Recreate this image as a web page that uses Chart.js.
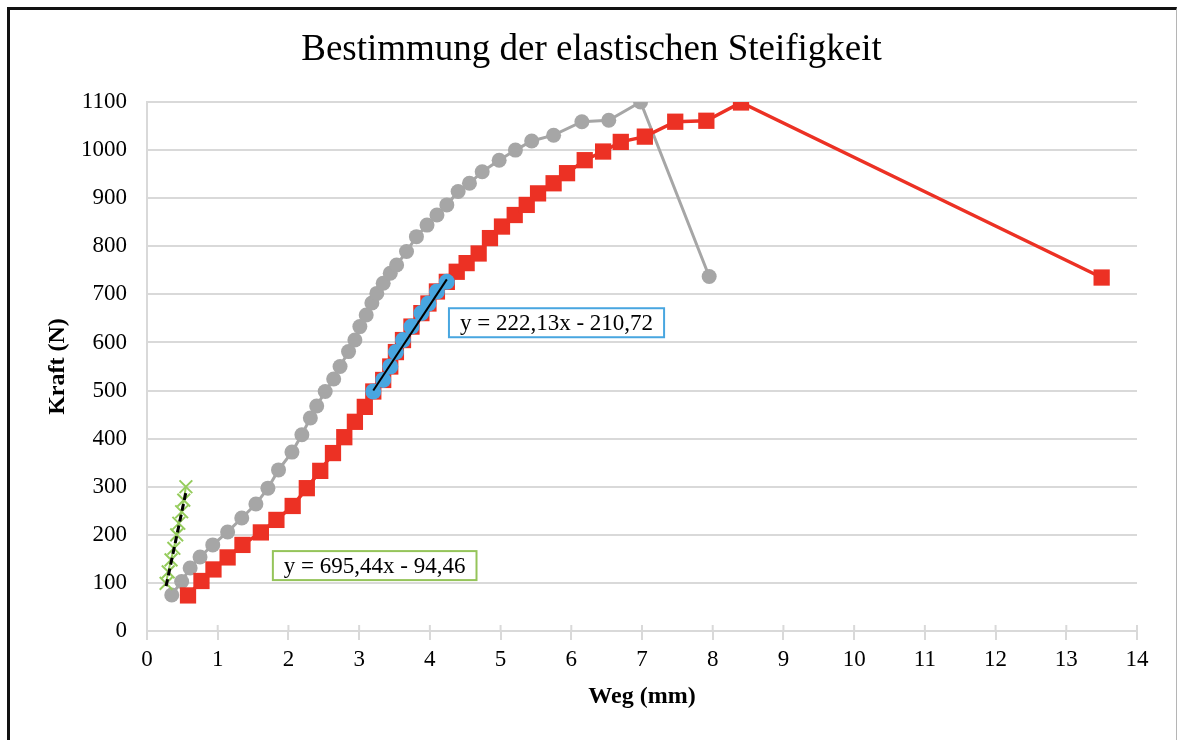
<!DOCTYPE html>
<html>
<head>
<meta charset="utf-8">
<script src="https://cdn.jsdelivr.net/npm/chart.js@4/dist/chart.umd.min.js"></script>
<style>
  html, body { margin: 0; padding: 0; background: #fff; }
  #wrap { position: relative; width: 1178px; height: 740px; }
  #frame {
    position: absolute; left: 7px; top: 7px; width: 1166px; height: 740px;
    border-top: 3px solid #111; border-left: 3px solid #111; border-right: 1px solid #b5b5b5;
    pointer-events: none;
  }
</style>
</head>
<body>
<div id="wrap">
  <canvas id="chart" width="1178" height="740"></canvas>
  <div id="frame"></div>
</div>
<script>
// Probe 1 (grey circles): Weg in mm, Kraft in N
const grayX = [0.35, 0.49, 0.61, 0.75, 0.93, 1.14, 1.34, 1.54, 1.71, 1.86, 2.05, 2.19, 2.31, 2.40,
  2.52, 2.64, 2.73, 2.85, 2.94, 3.01, 3.10, 3.18, 3.25, 3.34, 3.44, 3.53, 3.67, 3.81, 3.96, 4.10,
  4.24, 4.40, 4.56, 4.74, 4.98, 5.21, 5.44, 5.75, 6.15, 6.53, 6.98, 7.95];
const grayY = [75, 103, 131, 154, 179, 206, 235, 264, 297, 335, 372, 408, 443, 468,
  498, 524, 550, 581, 605, 633, 657, 682, 702, 723, 744, 761, 789, 820, 844, 865,
  886, 914, 931, 955, 979, 1000, 1019, 1031, 1059, 1062, 1100, 737];

// Probe 2 (red squares)
const redX = [0.58, 0.77, 0.94, 1.14, 1.35, 1.61, 1.83, 2.06, 2.26, 2.45, 2.63, 2.79, 2.94, 3.08,
  3.20, 3.34, 3.44, 3.52, 3.62, 3.74, 3.88, 3.98, 4.10, 4.24,
  4.38, 4.52, 4.69, 4.85, 5.02, 5.20, 5.37, 5.53, 5.75, 5.94, 6.19, 6.45, 6.70, 7.04, 7.47, 7.91,
  8.40, 13.50];
const redY = [74, 104, 128, 153, 179, 205, 231, 260, 297, 333, 370, 403, 435, 466,
  498, 522, 550, 580, 605, 633, 661, 681, 706, 726,
  747, 765, 785, 817, 841, 865, 886, 910, 931, 952, 979, 997, 1017, 1028, 1059, 1061,
  1099, 735];

// linear range of probe 2 used for the fit (blue)
const blueX = [3.20, 3.34, 3.44, 3.52, 3.62, 3.74, 3.88, 3.98, 4.10, 4.24];
const blueY = [498, 522, 550, 580, 605, 633, 661, 681, 706, 726];

// initial range of probe 1 used for the fit (green crosses)
const greenX = [0.27, 0.30, 0.34, 0.38, 0.42, 0.45, 0.49, 0.52, 0.55];
const greenY = [99, 123, 148, 172, 200, 224, 248, 272, 300];

// trend lines y = m*x + b
const fitSlope = [695.44, 222.13];
const fitIntercept = [-94.46, -210.72];

const xTickMax = 14;
const yTickMax = 1100;

const toPoints = (xs, ys) => xs.map((x, i) => ({ x: x, y: ys[i] }));

function fitLine(k, xs) {
  const x0 = Math.min(...xs), x1 = Math.max(...xs);
  return [x0, x1].map(x => ({ x: x, y: fitSlope[k] * x + fitIntercept[k] }));
}

function fitText(k) {
  const f = v => v.toFixed(2).replace('.', ',');
  const b = fitIntercept[k];
  return 'y = ' + f(fitSlope[k]) + 'x ' + (b < 0 ? '- ' : '+ ') + f(Math.abs(b));
}

const gridColor = '#d9d9d9';
const serif = "'Liberation Serif', 'Times New Roman', serif";
Chart.defaults.font.family = serif;
Chart.defaults.color = '#000';

// short tick marks above the x axis so they cross it
const crossTicks = {
  id: 'crossTicks',
  beforeDatasetsDraw(chart) {
    const sx = chart.scales.x, sy = chart.scales.y;
    const ctx = chart.ctx;
    const y0 = sy.getPixelForValue(0);
    ctx.save();
    ctx.strokeStyle = gridColor;
    ctx.lineWidth = 2;
    sx.ticks.forEach(t => {
      const px = sx.getPixelForValue(t.value);
      ctx.beginPath();
      ctx.moveTo(px, y0 - 6);
      ctx.lineTo(px, y0);
      ctx.stroke();
    });
    ctx.restore();
  }
};

// boxed trend line equations
const eqLabels = {
  id: 'eqLabels',
  afterDatasetsDraw(chart, args, opts) {
    const ctx = chart.ctx;
    const sx = chart.scales.x, sy = chart.scales.y;
    ctx.save();
    ctx.font = '23px ' + serif;
    ctx.textBaseline = 'middle';
    ctx.textAlign = 'left';
    opts.items.forEach(it => {
      const left = sx.getPixelForValue(it.x);
      const cy = sy.getPixelForValue(it.y);
      const w = ctx.measureText(it.text).width + 22;
      const h = 29;
      ctx.fillStyle = '#fff';
      ctx.fillRect(left, cy - h / 2, w, h);
      ctx.strokeStyle = it.color;
      ctx.lineWidth = 2;
      ctx.strokeRect(left, cy - h / 2, w, h);
      ctx.fillStyle = '#000';
      ctx.fillText(it.text, left + 11, cy + 1);
    });
    ctx.restore();
  }
};

new Chart(document.getElementById('chart'), {
  type: 'scatter',
  data: {
    datasets: [
      {
        label: 'Trend 2',
        data: fitLine(1, blueX),
        showLine: true,
        borderColor: '#000',
        borderWidth: 2,
        pointRadius: 0,
        order: 0
      },
      {
        label: 'Trend 1',
        data: fitLine(0, greenX),
        showLine: true,
        borderColor: '#000',
        borderWidth: 3,
        borderDash: [7, 4],
        pointRadius: 0,
        order: 0
      },
      {
        label: 'Fit 2',
        data: toPoints(blueX, blueY),
        showLine: true,
        borderColor: '#48a6e0',
        borderWidth: 3,
        pointStyle: 'circle',
        pointRadius: 8,
        pointBackgroundColor: '#48a6e0',
        pointBorderColor: '#48a6e0',
        pointBorderWidth: 0,
        order: 1
      },
      {
        label: 'Fit 1',
        data: toPoints(greenX, greenY),
        showLine: true,
        borderColor: '#95cc5c',
        borderWidth: 2,
        pointStyle: 'crossRot',
        pointRadius: 9,
        pointBorderWidth: 2,
        pointBorderColor: '#95cc5c',
        order: 2
      },
      {
        label: 'Probe 2',
        data: toPoints(redX, redY),
        showLine: true,
        borderColor: '#ec3124',
        borderWidth: 3.5,
        pointStyle: 'rect',
        pointRadius: 11.5,
        pointBackgroundColor: '#ec3124',
        pointBorderColor: '#ec3124',
        pointBorderWidth: 0,
        order: 3
      },
      {
        label: 'Probe 1',
        data: toPoints(grayX, grayY),
        showLine: true,
        borderColor: '#a6a6a6',
        borderWidth: 3,
        pointStyle: 'circle',
        pointRadius: 7.5,
        pointBackgroundColor: '#a6a6a6',
        pointBorderColor: '#a6a6a6',
        pointBorderWidth: 0,
        order: 4
      }
    ]
  },
  options: {
    responsive: false,
    animation: false,
    events: [],
    layout: { padding: { top: 0, left: 46, right: 41, bottom: 0 } },
    plugins: {
      legend: { display: false },
      tooltip: { enabled: false },
      title: {
        display: true,
        text: 'Bestimmung der elastischen Steifigkeit',
        color: '#000',
        font: { size: 37, weight: 'normal' },
        padding: { top: 28, bottom: 29.6 }
      },
      eqLabels: {
        items: [
          { text: fitText(0), x: 1.78, y: 136, color: '#95c45a' },
          { text: fitText(1), x: 4.27, y: 641, color: '#48a6e0' }
        ]
      }
    },
    scales: {
      x: {
        type: 'linear',
        min: 0,
        max: xTickMax,
        afterFit(scale) { scale.height = 109; },
        ticks: { stepSize: 1, padding: 6, font: { size: 23 }, color: '#000', maxRotation: 0,
          callback: v => String(v) },
        grid: { drawOnChartArea: false, drawTicks: true, tickLength: 9, color: gridColor, lineWidth: 2 },
        border: { display: true, color: gridColor, width: 2 },
        title: {
          display: true,
          text: 'Weg (mm)',
          font: { size: 24, weight: 'bold' },
          padding: { top: 0, bottom: 28.6 }
        }
      },
      y: {
        min: 0,
        max: yTickMax,
        afterFit(scale) { scale.width = 101; },
        ticks: { stepSize: 100, padding: 20, font: { size: 23 }, color: '#000',
          callback: v => String(v) },
        grid: { drawTicks: false, color: gridColor, lineWidth: 2 },
        border: { display: true, color: gridColor, width: 2 },
        title: {
          display: true,
          text: 'Kraft (N)',
          font: { size: 24, weight: 'bold', lineHeight: 1.0 },
          padding: { top: 0, bottom: 0 }
        }
      }
    }
  },
  plugins: [crossTicks, eqLabels]
});
</script>
</body>
</html>
